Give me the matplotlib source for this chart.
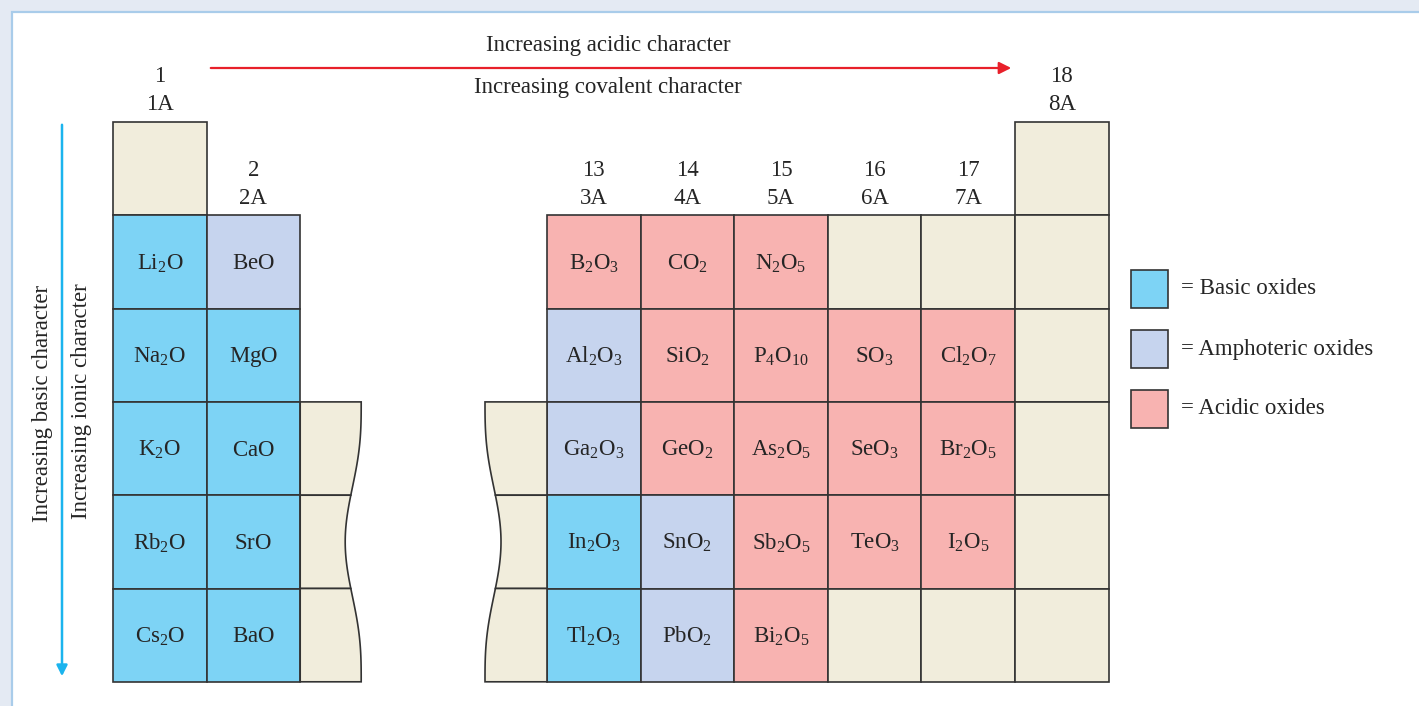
import numpy as np
import matplotlib.pyplot as plt
from matplotlib.patches import Rectangle, Polygon

plt.rcParams['font.family'] = ['Liberation Serif', 'DejaVu Serif']
plt.rcParams['mathtext.fontset'] = 'custom'
plt.rcParams['mathtext.rm'] = 'Liberation Serif'

# data
groups = ['1', '2', '13', '14', '15', '16', '17', '18']
group_labels = ['1A', '2A', '3A', '4A', '5A', '6A', '7A', '8A']
periods = [2, 3, 4, 5, 6]

oxides = [
    [r'Li_2O', r'BeO', r'B_2O_3', r'CO_2', r'N_2O_5', '', '', ''],
    [r'Na_2O', r'MgO', r'Al_2O_3', r'SiO_2', r'P_4O_{10}', r'SO_3', r'Cl_2O_7', ''],
    [r'K_2O', r'CaO', r'Ga_2O_3', r'GeO_2', r'As_2O_5', r'SeO_3', r'Br_2O_5', ''],
    [r'Rb_2O', r'SrO', r'In_2O_3', r'SnO_2', r'Sb_2O_5', r'TeO_3', r'I_2O_5', ''],
    [r'Cs_2O', r'BaO', r'Tl_2O_3', r'PbO_2', r'Bi_2O_5', '', '', ''],
]
kinds = [
    ['basic', 'amph', 'acid', 'acid', 'acid', '', '', ''],
    ['basic', 'basic', 'amph', 'acid', 'acid', 'acid', 'acid', ''],
    ['basic', 'basic', 'amph', 'acid', 'acid', 'acid', 'acid', ''],
    ['basic', 'basic', 'basic', 'amph', 'acid', 'acid', 'acid', ''],
    ['basic', 'basic', 'basic', 'amph', 'acid', '', '', ''],
]
legend_kinds = ['basic', 'amph', 'acid']
legend_text = ['= Basic oxides', '= Amphoteric oxides', '= Acidic oxides']

colors = {'basic': '#7DD3F5', 'amph': '#C6D4EE', 'acid': '#F8B3B1', '': '#F1EDDC'}
EDGE = '#333333'
TXT = '#252525'

# layout (pixels)
LEFT_X0, RIGHT_X0 = 113, 547
CW, CH = 93.6, 93.3
TOP = 122


def col_x(i):
    return LEFT_X0 + i * CW if i < 2 else RIGHT_X0 + (i - 2) * CW


def row_y(p):
    return TOP + (p - 1) * CH


fig = plt.figure(figsize=(14.19, 7.06), dpi=100, facecolor='#E4EAF3')
ax = fig.add_axes([0, 0, 1, 1])
ax.set_xlim(0, 1419)
ax.set_ylim(706, 0)
ax.axis('off')
ax.add_patch(Rectangle((12, 12), 1500, 800, fc='white', ec='#A9CCEA', lw=1.6))

# period 1 cells
for i in (0, 7):
    ax.add_patch(Rectangle((col_x(i), row_y(1)), CW, CH, fc=colors[''], ec=EDGE, lw=1.2))

for r, p in enumerate(periods):
    for i in range(8):
        k = kinds[r][i]
        x, y = col_x(i), row_y(p)
        ax.add_patch(Rectangle((x, y), CW, CH, fc=colors[k], ec=EDGE, lw=1.2))
        if oxides[r][i]:
            ax.text(x + CW / 2, y + CH / 2 + 1.5, r'$\mathrm{' + oxides[r][i] + '}$',
                    ha='center', va='center', fontsize=16.5, color=TXT)

# wavy broken columns (transition metals gap)
def wave(t):
    return 2 - 16 * np.sin(np.pi * t) ** 3

y_top, y_bot = row_y(4), row_y(7)
for p in (4, 5, 6):
    y0, y1 = row_y(p), row_y(p + 1)
    ys = np.linspace(y0, y1, 40)
    t = (ys - y_top) / (y_bot - y_top)
    lx = LEFT_X0 + 2 * CW
    pts = [(lx, y0)] + list(zip(lx + 59 + wave(t), ys)) + [(lx, y1)]
    ax.add_patch(Polygon(pts, closed=True, fc=colors[''], ec=EDGE, lw=1.2))
    pts = [(RIGHT_X0, y0)] + list(zip(RIGHT_X0 - 60 - wave(t), ys)) + [(RIGHT_X0, y1)]
    ax.add_patch(Polygon(pts, closed=True, fc=colors[''], ec=EDGE, lw=1.2))

# group headers
for i, (g, gl) in enumerate(zip(groups, group_labels)):
    top = row_y(1) if i in (0, 7) else row_y(2)
    cx = col_x(i) + CW / 2
    ax.text(cx, top - 45, g, ha='center', va='center', fontsize=16.5, color=TXT)
    ax.text(cx, top - 17, gl, ha='center', va='center', fontsize=16.5, color=TXT)

# trend arrows
ax.annotate('', xy=(1014, 68), xytext=(208, 68),
            arrowprops=dict(arrowstyle='-|>', color='#E8202A', lw=1.6, mutation_scale=18))
ax.annotate('', xy=(62, 679), xytext=(62, 122),
            arrowprops=dict(arrowstyle='-|>', color='#1BB4EE', lw=1.8, mutation_scale=16))
ax.text(608, 46, 'Increasing acidic character', ha='center', va='center', fontsize=16.5, color=TXT)
ax.text(608, 88, 'Increasing covalent character', ha='center', va='center', fontsize=16.5, color=TXT)
ax.text(43, 403, 'Increasing basic character', ha='center', va='center', rotation=90,
        fontsize=16.5, color=TXT)
ax.text(81, 401, 'Increasing ionic character', ha='center', va='center', rotation=90,
        fontsize=16.5, color=TXT)

# legend
for j, (k, txt) in enumerate(zip(legend_kinds, legend_text)):
    y = 270 + j * 60
    ax.add_patch(Rectangle((1131, y), 37, 38, fc=colors[k], ec=EDGE, lw=1.2))
    ax.text(1181, y + 19, txt, ha='left', va='center', fontsize=16.5, color=TXT)

fig.savefig('out.png', dpi=100, facecolor=fig.get_facecolor())
